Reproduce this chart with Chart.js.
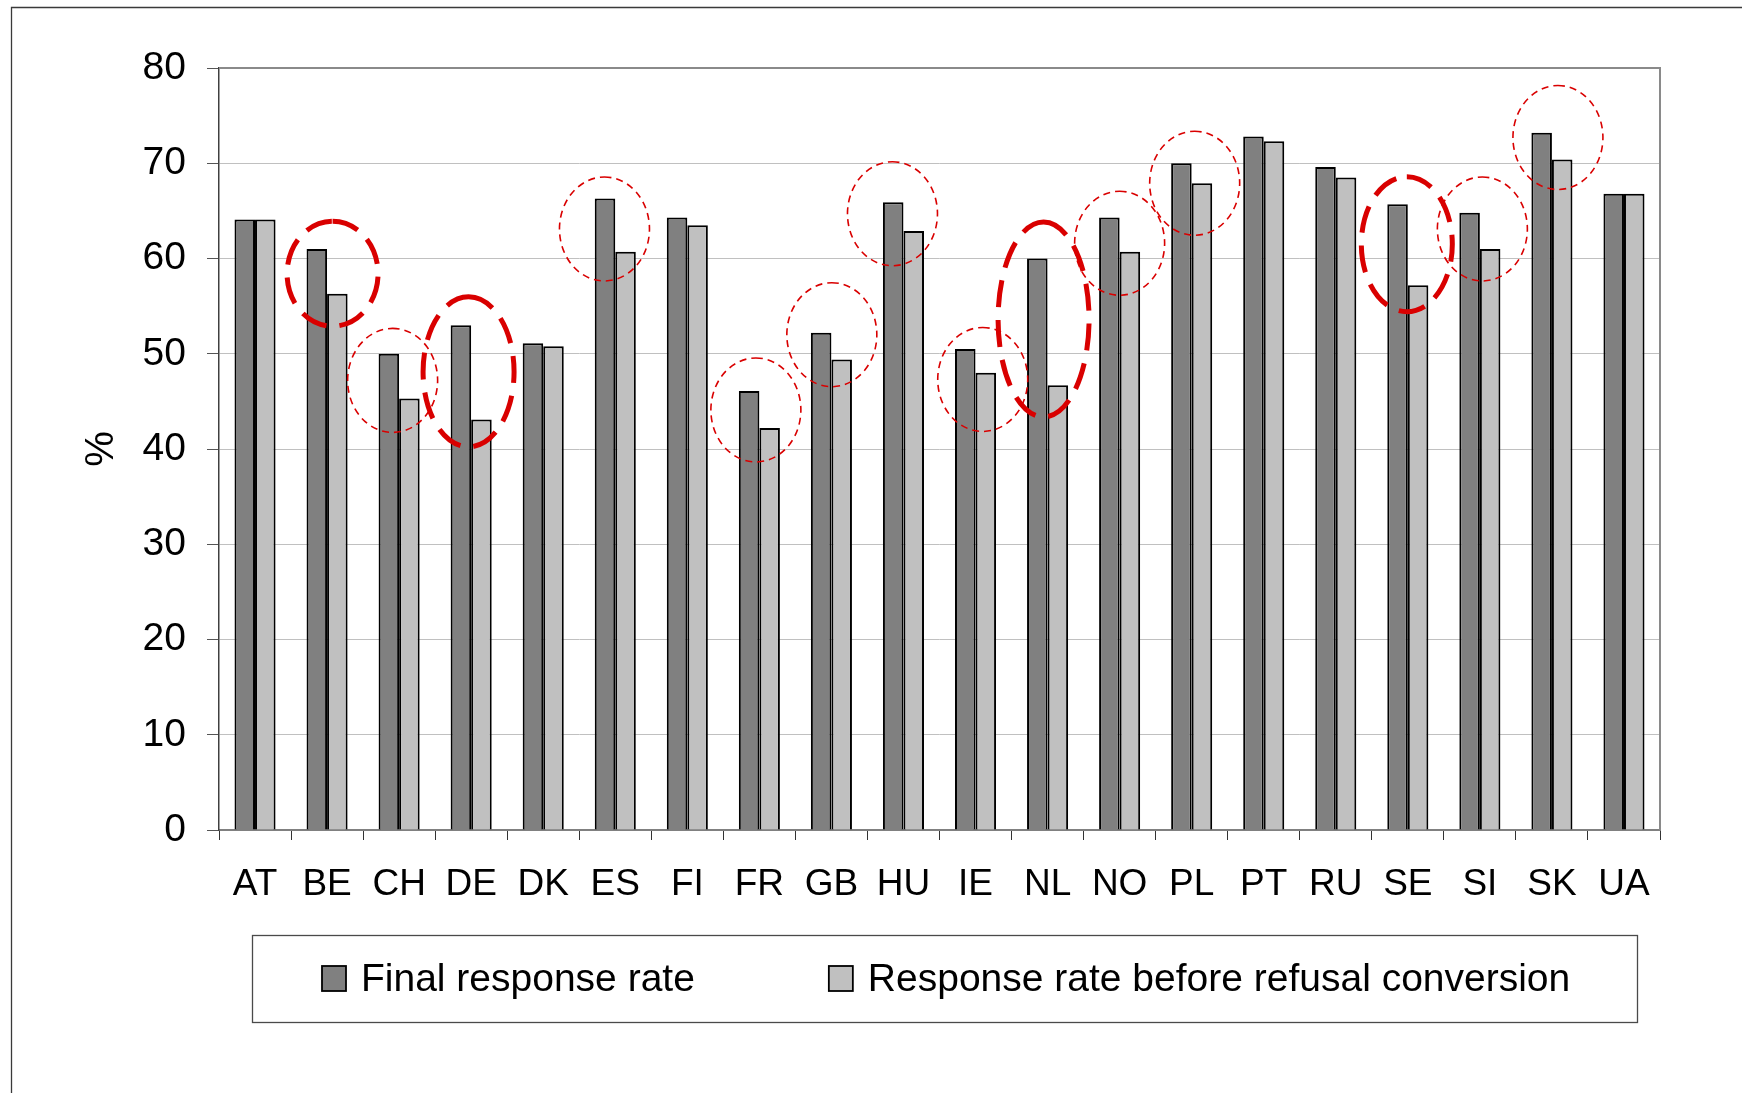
<!DOCTYPE html>
<html>
<head>
<meta charset="utf-8">
<title>Response rates</title>
<script src="https://cdn.jsdelivr.net/npm/chart.js@4/dist/chart.umd.min.js"></script>
<style>
  html, body { margin: 0; padding: 0; background: #fff; overflow: hidden; }
  #wrap { position: relative; width: 1742px; height: 1093px; }
</style>
</head>
<body>
<div id="wrap"><canvas id="chart" width="1742" height="1093"></canvas></div>
<script>
// Countries and response rates (%)
const countries = ['AT','BE','CH','DE','DK','ES','FI','FR','GB','HU','IE','NL','NO','PL','PT','RU','SE','SI','SK','UA'];
const finalRate = [64.1, 61.0, 50.0, 53.0, 51.1, 66.3, 64.3, 46.1, 52.2, 65.9, 50.5, 60.0, 64.3, 70.0, 72.8, 69.6, 65.7, 64.8, 73.2, 66.8];
const rateBeforeConversion = [64.1, 56.3, 45.3, 43.1, 50.8, 60.7, 63.5, 42.2, 49.4, 62.9, 48.0, 46.7, 60.7, 67.9, 72.3, 68.5, 57.2, 61.0, 70.4, 66.8];
const seriesNames = ['Final response rate', 'Response rate before refusal conversion'];
const yTicks = [0, 10, 20, 30, 40, 50, 60, 70, 80];

// Dashed rings around the countries with a notable gap
// (centre given as a value on the y axis, offsets and radii in pixels)
const highlights = [
  { country: 'BE', value: 58.4, dx: 5.5,  rx: 45.5, ry: 52.5, heavy: true },
  { country: 'CH', value: 47.2, dx: -6.5, rx: 45,   ry: 52,   heavy: false },
  { country: 'DE', value: 48.1, dx: -2.6, rx: 45.5, ry: 75,   heavy: true },
  { country: 'ES', value: 63.1, dx: -10.8, rx: 45,  ry: 52,   heavy: false },
  { country: 'FR', value: 44.1, dx: -3.5, rx: 45,   ry: 52,   heavy: false },
  { country: 'GB', value: 52.0, dx: 0.4,  rx: 45,   ry: 52,   heavy: false },
  { country: 'HU', value: 64.7, dx: -11,  rx: 45,   ry: 52,   heavy: false },
  { country: 'IE', value: 47.3, dx: 7.2,  rx: 45,   ry: 52,   heavy: false },
  { country: 'NL', value: 53.6, dx: -4,   rx: 45.5, ry: 97.5, heavy: true },
  { country: 'NO', value: 61.6, dx: 0,    rx: 45,   ry: 52,   heavy: false },
  { country: 'PL', value: 67.9, dx: 3,    rx: 45,   ry: 52,   heavy: false },
  { country: 'SE', value: 61.5, dx: -1,   rx: 45.5, ry: 67.5, heavy: true },
  { country: 'SI', value: 63.1, dx: 2.5,  rx: 45,   ry: 52,   heavy: false },
  { country: 'SK', value: 72.7, dx: 6,    rx: 45,   ry: 52,   heavy: false }
];

const FONT = '"Liberation Sans", Arial, Helvetica, sans-serif';

const decorations = {
  id: 'decorations',
  beforeDraw(chart) {
    const ctx = chart.ctx;
    ctx.save();
    ctx.fillStyle = '#ffffff';
    ctx.fillRect(0, 0, chart.width, chart.height);
    // outer frame of the chart object
    ctx.strokeStyle = '#3a3a3a';
    ctx.lineWidth = 1.3;
    ctx.beginPath();
    ctx.moveTo(11.5, chart.height + 5);
    ctx.lineTo(11.5, 7.5);
    ctx.lineTo(chart.width + 5, 7.5);
    ctx.stroke();
    ctx.restore();
  },
  beforeDatasetsDraw(chart) {
    const { ctx, chartArea: a } = chart;
    ctx.save();
    ctx.strokeStyle = '#8a8a8a';
    ctx.lineWidth = 2;
    ctx.beginPath();
    ctx.moveTo(a.left, a.top);
    ctx.lineTo(a.right, a.top);
    ctx.lineTo(a.right, a.bottom);
    ctx.stroke();
    ctx.restore();
  },
  afterDatasetsDraw(chart) {
    const ctx = chart.ctx;
    const xs = chart.scales.x, ys = chart.scales.y;
    ctx.save();
    ctx.strokeStyle = '#d90000';
    highlights.forEach(h => {
      const cx = xs.getPixelForValue(countries.indexOf(h.country)) + h.dx;
      const cy = ys.getPixelForValue(h.value);
      ctx.lineWidth = h.heavy ? 5 : 1.6;
      ctx.setLineDash(h.heavy ? [27, 13] : [7, 5]);
      ctx.beginPath();
      ctx.ellipse(cx, cy, h.rx, h.ry, 0, -Math.PI / 2, Math.PI * 1.5);
      ctx.stroke();
    });
    ctx.restore();
  },
  afterDraw(chart) {
    const ctx = chart.ctx;
    const box = { x: 252, y: 935, w: 1385, h: 87 };
    ctx.save();
    ctx.strokeStyle = '#4a4a4a';
    ctx.lineWidth = 1.3;
    ctx.strokeRect(box.x + 0.5, box.y + 0.5, box.w, box.h);
    ctx.font = '39px ' + FONT;
    ctx.textBaseline = 'alphabetic';
    ctx.textAlign = 'left';
    const sw = 24, sh = 25, gapText = 15, gapItems = 134;
    const baseline = box.y + 56;
    let x = box.x + 70;
    chart.data.datasets.forEach(ds => {
      ctx.fillStyle = ds.backgroundColor;
      ctx.fillRect(x, baseline - sh, sw, sh);
      ctx.strokeStyle = '#000';
      ctx.lineWidth = 1.8;
      ctx.strokeRect(x, baseline - sh, sw, sh);
      ctx.fillStyle = '#000';
      ctx.fillText(ds.label, x + sw + gapText, baseline);
      x += sw + gapText + ctx.measureText(ds.label).width + gapItems;
    });
    ctx.restore();
  }
};

new Chart(document.getElementById('chart'), {
  type: 'bar',
  data: {
    labels: countries,
    datasets: [
      { label: seriesNames[0], data: finalRate, backgroundColor: '#808080', borderColor: '#000000', borderWidth: 2 },
      { label: seriesNames[1], data: rateBeforeConversion, backgroundColor: '#c0c0c0', borderColor: '#000000', borderWidth: 2 }
    ]
  },
  options: {
    responsive: false,
    animation: false,
    devicePixelRatio: 1,
    layout: { padding: { left: 0, top: 68, right: 82, bottom: 0 } },
    datasets: { bar: { categoryPercentage: 0.57, barPercentage: 1.0 } },
    plugins: { legend: { display: false }, tooltip: { enabled: false } },
    scales: {
      x: {
        grid: { display: true, drawOnChartArea: false, drawTicks: true, tickLength: 10, tickColor: '#333333', lineWidth: 1, offset: true },
        border: { display: true, color: '#808080', width: 2 },
        ticks: { color: '#000', font: { family: FONT, size: 37 }, padding: 23, maxRotation: 0, autoSkip: false },
        afterFit(s) { s.height = 263; }
      },
      y: {
        min: 0,
        max: 80,
        afterBuildTicks(s) { s.ticks = yTicks.map(v => ({ value: v })); },
        ticks: { color: '#000', font: { family: FONT, size: 39 }, padding: 21 },
        grid: { color: '#c0c0c0', lineWidth: 1, tickLength: 12, tickColor: '#555555' },
        border: { display: true, color: '#404040', width: 1.5 },
        title: { display: true, text: '%', color: '#000', font: { family: FONT, size: 40 }, padding: { top: 78, bottom: 0 } },
        afterFit(s) { s.width = 219; }
      }
    }
  },
  plugins: [decorations]
});
</script>
</body>
</html>
